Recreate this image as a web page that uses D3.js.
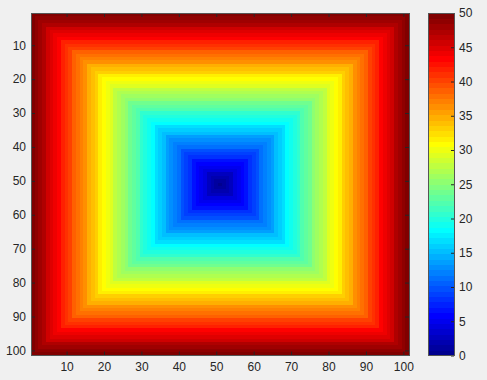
<!DOCTYPE html>
<html lang="en">
<head>
<meta charset="UTF-8">
<script src="https://d3js.org/d3.v7.min.js"></script>
<style>
  body { margin: 0; background: #f0f0f0; }
  svg { display: block; }
  text { font-family: "Liberation Sans", Arial, sans-serif; font-size: 12px; fill: #262626; }
</style>
</head>
<body>
<script>
// data: value of each square ring, counted outward from the centre cell
const center = 51;
const ringLevels = [50, 49, 48, 47, 46, 45, 44, 43, 42, 41, 40, 39, 38, 37, 36, 35, 34,
  33, 32, 31, 30, 29, 28, 27, 26, 25, 24, 23, 22, 21, 20, 19, 18, 17, 16, 15, 14, 13,
  12, 11, 10, 9, 8, 7, 6, 5, 4, 3, 2, 1, 0];
const xTicks = [10, 20, 30, 40, 50, 60, 70, 80, 90, 100];
const yTicks = [10, 20, 30, 40, 50, 60, 70, 80, 90, 100];
const cbTicks = [0, 5, 10, 15, 20, 25, 30, 35, 40, 45, 50];
const cLim = [0, 50];

const W = 487, H = 380;
const plot = { left: 31, top: 13, right: 409, bottom: 355.5 };
const cbar = { left: 428, right: 454 };

// MATLAB style jet colormap
function jet(m) {
  const n = Math.ceil(m / 4);
  const u = [];
  for (let i = 1; i <= n; i++) u.push(i / n);
  for (let i = 1; i < n; i++) u.push(1);
  for (let i = n; i >= 1; i--) u.push(i / n);
  const off = Math.ceil(n / 2) - (m % 4 === 1 ? 1 : 0);
  const J = d3.range(m).map(() => [0, 0, 0]);
  u.forEach((v, k) => {
    const g = off + k + 1, r = g + n, b = g - n;
    if (g <= m) J[g - 1][1] = v;
    if (r <= m) J[r - 1][0] = v;
    if (b >= 1 && b <= m) J[b - 1][2] = v;
  });
  return J.map(c => d3.rgb(c[0] * 255, c[1] * 255, c[2] * 255).formatHex());
}
const cmap = jet(64);
const color = d3.scaleQuantize().domain(cLim).range(cmap);

const svg = d3.select("body").append("svg").attr("width", W).attr("height", H);

const x = d3.scaleLinear().domain([0.5, 101.5]).range([plot.left, plot.right]);
const y = d3.scaleLinear().domain([0.5, 101.5]).range([plot.top, plot.bottom]);

svg.append("g").attr("shape-rendering", "crispEdges")
  .selectAll("rect")
  .data(ringLevels)
  .join("rect")
  .attr("x", k => x(center - k - 0.5))
  .attr("y", k => y(center - k - 0.5))
  .attr("width", k => x(center + k + 0.5) - x(center - k - 0.5))
  .attr("height", k => y(center + k + 0.5) - y(center - k - 0.5))
  .attr("fill", k => color(k));

const tl = 4;
const axisCol = "#555";
function clean(g) {
  g.select(".domain").remove();
  g.selectAll("line").attr("stroke", "#262626");
  g.selectAll("text").attr("font-family", null).attr("font-size", null).attr("fill", null);
}
// ticks point inward, on all four sides
const xb = svg.append("g").attr("transform", `translate(0,${plot.bottom})`)
  .call(d3.axisBottom(x).tickValues(xTicks).tickSize(-tl).tickPadding(7));
const xt = svg.append("g").attr("transform", `translate(0,${plot.top})`)
  .call(d3.axisTop(x).tickValues(xTicks).tickSize(-tl).tickFormat(""));
const yl = svg.append("g").attr("transform", `translate(${plot.left},0)`)
  .call(d3.axisLeft(y).tickValues(yTicks).tickSize(-tl).tickPadding(5));
const yr = svg.append("g").attr("transform", `translate(${plot.right},0)`)
  .call(d3.axisRight(y).tickValues(yTicks).tickSize(-tl).tickFormat(""));
[xb, xt, yl, yr].forEach(clean);
svg.append("rect")
  .attr("x", plot.left).attr("y", plot.top)
  .attr("width", plot.right - plot.left).attr("height", plot.bottom - plot.top)
  .attr("fill", "none").attr("stroke", axisCol).attr("shape-rendering", "crispEdges");

// colorbar
const cy = d3.scaleLinear().domain(cLim).range([plot.bottom, plot.top]);
const step = (cLim[1] - cLim[0]) / cmap.length;
svg.append("g").attr("shape-rendering", "crispEdges")
  .selectAll("rect")
  .data(cmap)
  .join("rect")
  .attr("x", cbar.left)
  .attr("width", cbar.right - cbar.left)
  .attr("y", (c, i) => cy(cLim[0] + (i + 1) * step))
  .attr("height", (c, i) => cy(cLim[0] + i * step) - cy(cLim[0] + (i + 1) * step) + 0.5)
  .attr("fill", c => c);
const cb = svg.append("g").attr("transform", `translate(${cbar.right},0)`)
  .call(d3.axisRight(cy).tickValues(cbTicks).tickSize(-3).tickPadding(5));
clean(cb);
svg.append("rect")
  .attr("x", cbar.left).attr("y", plot.top)
  .attr("width", cbar.right - cbar.left).attr("height", plot.bottom - plot.top)
  .attr("fill", "none").attr("stroke", axisCol).attr("shape-rendering", "crispEdges");
</script>
</body>
</html>
